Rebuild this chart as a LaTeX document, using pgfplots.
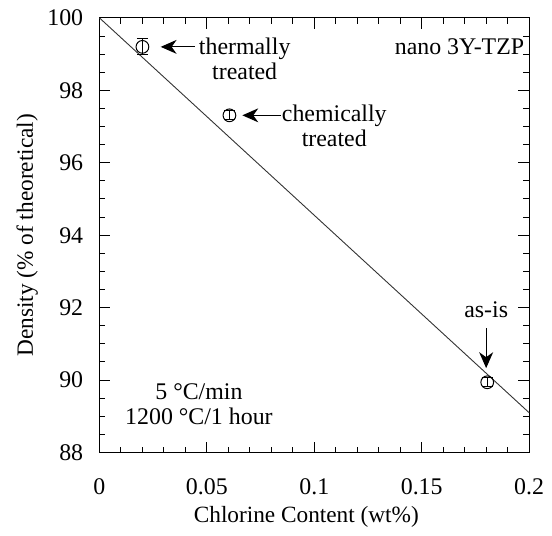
\documentclass[border=0pt]{standalone}
\usepackage{pgfplots}
\pgfplotsset{compat=1.18}
\usepackage{fontspec}
\setmainfont{Liberation Serif}
\usetikzlibrary{arrows.meta}
\begin{document}
\begin{tikzpicture}
\fontsize{12}{14}\selectfont
\begin{axis}[
  name=ax,
  scale only axis,
  width=216pt, height=218.5pt,
  xmin=0, xmax=0.2, ymin=88, ymax=100,
  xtick={0,0.05,0.1,0.15,0.2},
  xticklabels={0,0.05,0.1,0.15,0.2},
  ytick={88,90,...,100},
  minor x tick num=4,
  minor y tick num=3,
  tick align=inside,
  major tick length=5.5pt,
  minor tick length=3pt,
  tick style={black, line width=0.5pt},
  axis line style={line width=0.6pt},
  ticklabel style={font=\fontsize{12}{14}\selectfont},
  xticklabel style={yshift=-9pt},
  yticklabel style={xshift=-4pt},
  /pgf/number format/assume math mode=true,
  xlabel={Chlorine Content (wt\%)},
  ylabel={Density (\% of theoretical)},
  label style={font=\fontsize{11.7}{14}\selectfont},
  xlabel style={yshift=2.5pt, xshift=-4pt},
  ylabel style={yshift=-3.5pt},
  clip=false,
]
\addplot[black!80, line width=0.45pt, no marks] coordinates {(0,100) (0.2,89.1)};
\addplot[only marks, mark=o, mark size=3.2pt, mark options={line width=0.5pt}, black,
  error bars/.cd, y dir=both, y explicit, error mark options={rotate=90, mark size=2.8pt, line width=0.5pt}, error bar style={line width=0.5pt}]
  coordinates {
    (0.02,99.2) +- (0,0.22)
    (0.0605,97.31) +- (0,0.12)
    (0.1805,89.94) +- (0,0.12)
  };
\draw[-{Stealth[length=8pt,width=7pt,inset=2.5pt]}, line width=0.6pt] (axis cs:0.0444,99.2) -- (axis cs:0.0285,99.2);
\draw[-{Stealth[length=8pt,width=7pt,inset=2.5pt]}, line width=0.6pt] (axis cs:0.0843,97.31) -- (axis cs:0.0665,97.31);
\draw[-{Stealth[length=8pt,width=7pt,inset=2.5pt]}, line width=0.6pt] (axis cs:0.18,91.43) -- (axis cs:0.18,90.33);
\node[align=center, inner sep=0pt, font=\fontsize{12}{12.6}\selectfont] at (axis cs:0.0676,98.88) {thermally\\treated};
\node[align=center, inner sep=0pt, font=\fontsize{12}{12.6}\selectfont] at (axis cs:0.1093,97.03) {chemically\\treated};
\node[inner sep=0pt, font=\fontsize{12}{14}\selectfont] at (axis cs:0.18,91.93) {as-is};
\node[inner sep=0pt, font=\fontsize{12}{14}\selectfont] at (axis cs:0.1676,99.2) {nano 3Y-TZP};
\node[align=center, inner sep=0pt, font=\fontsize{12}{12.6}\selectfont] at (axis cs:0.0463,89.33) {5 °C/min\\1200 °C/1 hour};
\end{axis}
\path ([xshift=-50pt,yshift=-36pt]ax.south west) rectangle ([xshift=10pt,yshift=9pt]ax.north east);
\end{tikzpicture}
\end{document}
